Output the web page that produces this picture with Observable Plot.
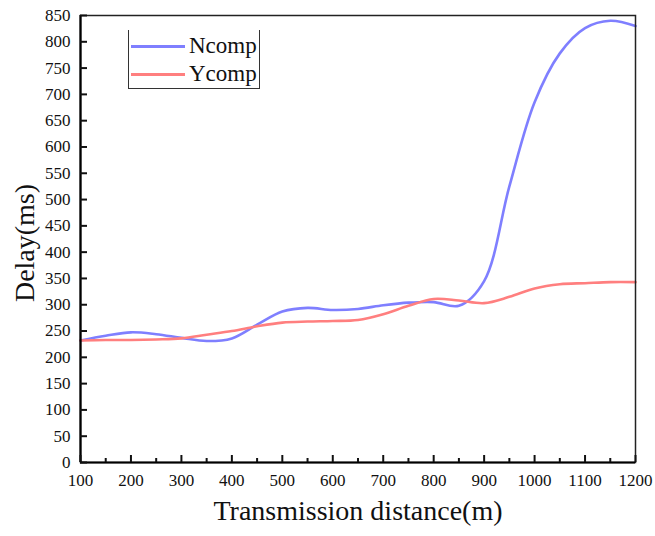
<!DOCTYPE html>
<html>
<head>
<meta charset="utf-8">
<script src="https://cdn.jsdelivr.net/npm/d3@7"></script>
<script src="https://cdn.jsdelivr.net/npm/@observablehq/plot@0.6"></script>
<style>
  body { margin: 0; background: #fff; }
  #wrap { position: relative; width: 655px; height: 536px; font-family: "Liberation Serif", "Times New Roman", serif; }
  #wrap svg text { font-family: "Liberation Serif", "Times New Roman", serif; }
  #legend { position: absolute; left: 128px; top: 30px; width: 130px; height: 58px;
    border-left: 1px solid #333; border-right: 1px solid #333; border-bottom: 1px solid #333; }
  .row { position: absolute; left: 2px; height: 26px; display: flex; align-items: center; font-size: 23px; color: #111; }
  .sw { width: 54px; height: 3px; margin-right: 4px; }
</style>
</head>
<body>
<div id="wrap"></div>
<script>
const distance = [100,150,200,250,300,350,400,450,500,550,600,650,700,750,800,850,900,950,1000,1050,1100,1150,1200];
const ncomp = [232,241,247.5,244,237,231,236,262,287,294,290,292,299,304,305,298,345,525,685,778,826,840,830];
const ycomp = [232,233,233,234,236,243,250,259,266,268,269,271,282,298,311,308,303,315,331,339,341,343,343];
const seriesNames = ["Ncomp", "Ycomp"];
const seriesColors = ["#7f7fff", "#ff7f7f"];
const xTicks = [100,200,300,400,500,600,700,800,900,1000,1100,1200];
const xMinorTicks = [150,250,350,450,550,650,750,850,950,1050,1150];
const yTicks = d3.range(0, 851, 50);
const serif = "Liberation Serif";

const rows = [];
distance.forEach((d, i) => {
  rows.push({x: d, y: ncomp[i], s: seriesNames[0]});
  rows.push({x: d, y: ycomp[i], s: seriesNames[1]});
});

const chart = Plot.plot({
  width: 655,
  height: 536,
  marginLeft: 80,
  marginRight: 20,
  marginTop: 15,
  marginBottom: 74,
  style: {fontFamily: serif, fontSize: "17px", color: "#111", background: "#fff"},
  x: {domain: [100, 1200]},
  y: {domain: [0, 850]},
  color: {domain: seriesNames, range: seriesColors},
  marks: [
    Plot.line(rows, {x: "x", y: "y", z: "s", stroke: "s", strokeWidth: 2.6, curve: "catmull-rom"}),
    Plot.frame({stroke: "#222", strokeWidth: 1.5}),
    Plot.ruleX([100], {stroke: "#000", strokeWidth: 2.2}),
    Plot.ruleY([0], {stroke: "#000", strokeWidth: 2.2}),
    Plot.axisX({ticks: xTicks, tickSize: -7, strokeWidth: 2, text: null, label: null}),
    Plot.axisX({ticks: xTicks, tickFormat: "d", tickSize: 0, tickPadding: 11, fontSize: 17, fontFamily: serif, fill: "#111", label: null}),
    Plot.axisX({ticks: xMinorTicks, tickSize: -4, strokeWidth: 2, text: null, label: null}),
    Plot.axisY({ticks: yTicks, tickSize: -7, strokeWidth: 2, text: null, label: null}),
    Plot.axisY({ticks: yTicks, tickFormat: "d", tickSize: 0, tickPadding: 10, fontSize: 17, fontFamily: serif, fill: "#111", label: null}),
    Plot.text(["Delay(ms)"], {frameAnchor: "left", textAnchor: "middle", dx: -55, dy: 4, rotate: -90, fontSize: 28, fontFamily: serif, fill: "#111"}),
    Plot.text(["Transmission distance(m)"], {frameAnchor: "bottom", textAnchor: "middle", dy: 57, fontSize: 28, fontFamily: serif, fill: "#111"})
  ]
});

const wrap = document.getElementById("wrap");
wrap.appendChild(chart);
const legend = document.createElement("div");
legend.id = "legend";
seriesNames.forEach((name, i) => {
  const r = document.createElement("div");
  r.className = "row";
  r.style.top = (3 + i * 28) + "px";
  const sw = document.createElement("span");
  sw.className = "sw";
  sw.style.background = seriesColors[i];
  const t = document.createElement("span");
  t.textContent = name;
  r.appendChild(sw); r.appendChild(t);
  legend.appendChild(r);
});
wrap.appendChild(legend);
</script>
</body>
</html>
